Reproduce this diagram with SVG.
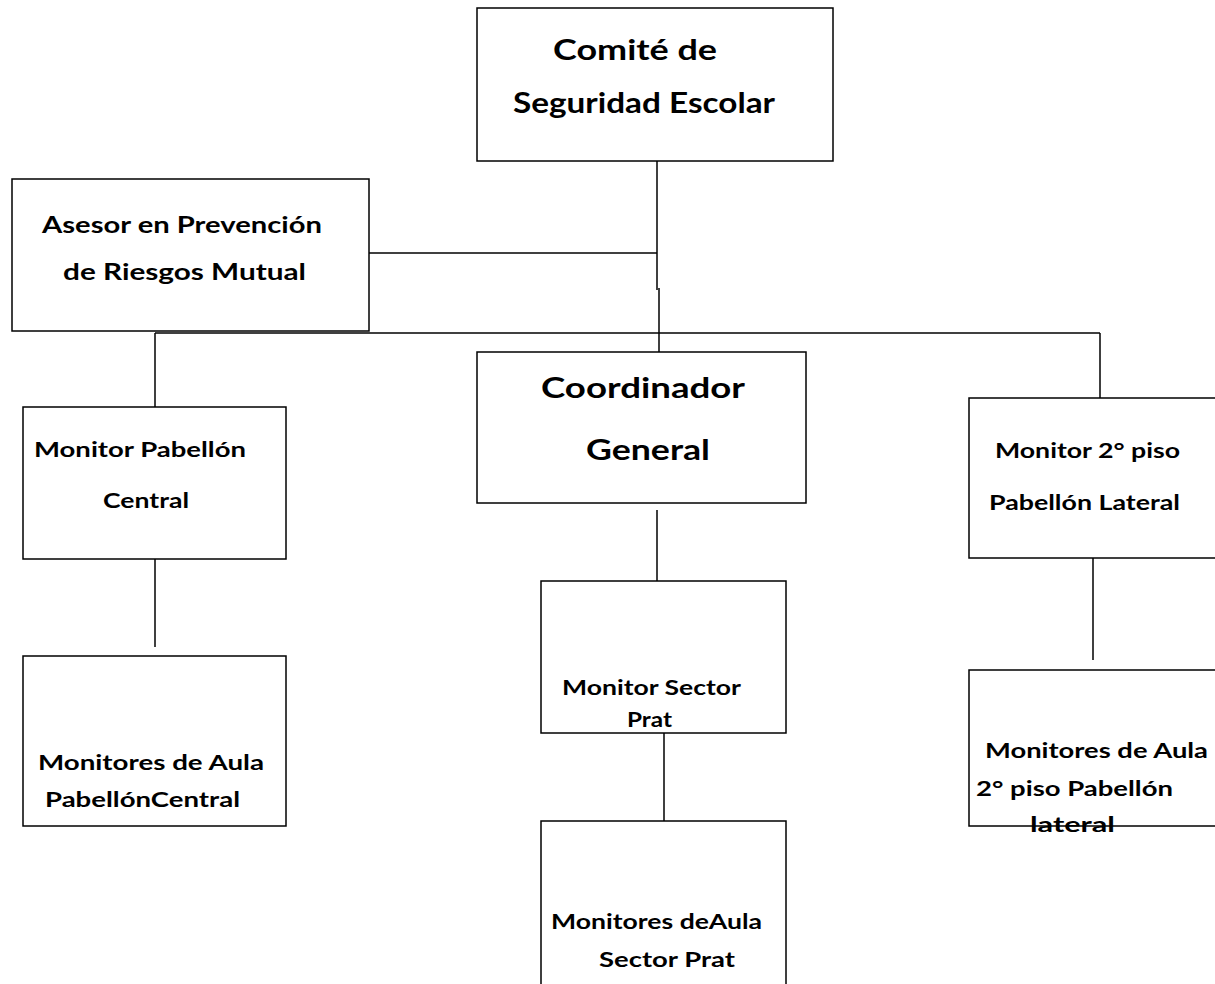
<svg xmlns="http://www.w3.org/2000/svg" width="1215" height="984" viewBox="0 0 1215 984">
<style>
.box{fill:#fff;stroke:#000;stroke-width:1.5}
.ln{stroke:#000;stroke-width:1.5;fill:none}
.t{font-family:Lato,"Open Sans","Liberation Sans",sans-serif;font-weight:bold;fill:#000}
.big{font-size:28px}
.mid{font-size:23px}
.sm{font-size:20px}
</style>
<rect width="1215" height="984" fill="#fff"/>
<g id="connectors">
<line class="ln" x1="657" y1="161" x2="657" y2="290"/>
<line class="ln" x1="659" y1="288" x2="659" y2="352"/>
<line class="ln" x1="369" y1="253" x2="657" y2="253"/>
<line class="ln" x1="155" y1="333" x2="1100" y2="333"/>
<line class="ln" x1="155" y1="333" x2="155" y2="407"/>
<line class="ln" x1="1100" y1="333" x2="1100" y2="398"/>
<line class="ln" x1="657" y1="510" x2="657" y2="581"/>
<line class="ln" x1="664" y1="728" x2="664" y2="821"/>
<line class="ln" x1="155" y1="551" x2="155" y2="647"/>
<line class="ln" x1="1093" y1="550" x2="1093" y2="660"/>
</g>
<g id="comite">
<rect class="box" x="477" y="8" width="356" height="153"/>
<text class="t big" x="553" y="60" textLength="164" lengthAdjust="spacingAndGlyphs">Comité de</text>
<text class="t big" x="513" y="113" textLength="262" lengthAdjust="spacingAndGlyphs">Seguridad Escolar</text>
</g>
<g id="asesor">
<rect class="box" x="12" y="179" width="357" height="152"/>
<text class="t mid" x="42" y="233" textLength="280" lengthAdjust="spacingAndGlyphs">Asesor en Prevención</text>
<text class="t mid" x="63" y="280" textLength="243" lengthAdjust="spacingAndGlyphs">de Riesgos Mutual</text>
</g>
<g id="coordinador">
<rect class="box" x="477" y="352" width="329" height="151"/>
<text class="t big" x="541" y="398" textLength="204" lengthAdjust="spacingAndGlyphs">Coordinador</text>
<text class="t big" x="586" y="460" textLength="124" lengthAdjust="spacingAndGlyphs">General</text>
</g>
<g id="monitor-pabellon-central">
<rect class="box" x="23" y="407" width="263" height="152"/>
<text class="t sm" x="34" y="457" textLength="212" lengthAdjust="spacingAndGlyphs">Monitor Pabellón</text>
<text class="t sm" x="103" y="508" textLength="86" lengthAdjust="spacingAndGlyphs">Central</text>
</g>
<g id="monitor-2-piso">
<rect class="box" x="969" y="398" width="250" height="160"/>
<text class="t sm" x="995" y="458" textLength="185" lengthAdjust="spacingAndGlyphs">Monitor 2° piso</text>
<text class="t sm" x="989" y="510" textLength="191" lengthAdjust="spacingAndGlyphs">Pabellón Lateral</text>
</g>
<g id="monitor-sector-prat">
<rect class="box" x="541" y="581" width="245" height="152"/>
<text class="t sm" x="562" y="695" textLength="179" lengthAdjust="spacingAndGlyphs">Monitor Sector</text>
<text class="t sm" x="627" y="727" textLength="45" lengthAdjust="spacingAndGlyphs">Prat</text>
</g>
<g id="monitores-aula-pabellon-central">
<rect class="box" x="23" y="656" width="263" height="170"/>
<text class="t sm" x="38" y="770" textLength="226" lengthAdjust="spacingAndGlyphs">Monitores de Aula</text>
<text class="t sm" x="45" y="807" textLength="195" lengthAdjust="spacingAndGlyphs">PabellónCentral</text>
</g>
<g id="monitores-aula-2-piso">
<rect class="box" x="969" y="670" width="250" height="156"/>
<text class="t sm" x="985" y="758" textLength="223" lengthAdjust="spacingAndGlyphs">Monitores de Aula</text>
<text class="t sm" x="976" y="796" textLength="197" lengthAdjust="spacingAndGlyphs">2° piso Pabellón</text>
<text class="t sm" x="1030" y="832" textLength="85" lengthAdjust="spacingAndGlyphs">lateral</text>
</g>
<g id="monitores-aula-sector-prat">
<rect class="box" x="541" y="821" width="245" height="170"/>
<text class="t sm" x="551" y="929" textLength="211" lengthAdjust="spacingAndGlyphs">Monitores deAula</text>
<text class="t sm" x="599" y="967" textLength="136" lengthAdjust="spacingAndGlyphs">Sector Prat</text>
</g>
</svg>
